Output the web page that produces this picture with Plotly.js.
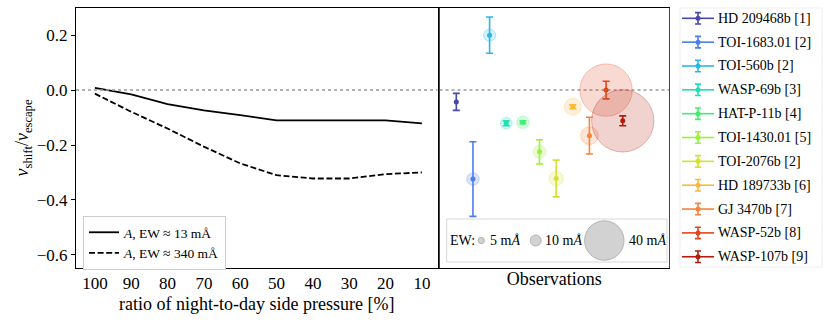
<!DOCTYPE html>
<html>
<head>
<meta charset="utf-8">
<script src="https://cdn.plot.ly/plotly-3.0.1.min.js"></script>
<style>html,body{margin:0;padding:0;background:#fff;}#chart{width:830px;height:324px;}</style>
</head>
<body>
<div id="chart"></div>
<script>
// ---- Left panel: simulated shift vs night-to-day pressure ratio ----
const pressure = [100, 90, 80, 70, 60, 50, 40, 30, 20, 10];
const shiftLowEW = [0.008, -0.016, -0.051, -0.074, -0.091, -0.110, -0.110, -0.110, -0.110, -0.121];
const shiftHighEW = [-0.013, -0.079, -0.140, -0.206, -0.267, -0.310, -0.322, -0.322, -0.306, -0.300];
const modelNames = ['<i>A</i>, EW ≈ 13 mÅ', '<i>A</i>, EW ≈ 340 mÅ'];

// ---- Right panel: observations ----
const planetNames = ['HD 209468b [1]', 'TOI-1683.01 [2]', 'TOI-560b [2]', 'WASP-69b [3]', 'HAT-P-11b [4]',
  'TOI-1430.01 [5]', 'TOI-2076b [2]', 'HD 189733b [6]', 'GJ 3470b [7]', 'WASP-52b [8]', 'WASP-107b [9]'];
const obsIndex = [1, 2, 3, 4, 5, 6, 7, 8, 9, 10, 11];
const vShift = [-0.043, -0.324, 0.200, -0.121, -0.117, -0.225, -0.322, -0.061, -0.166, 0.000, -0.112];
const vShiftErr = [0.031, 0.136, 0.066, 0.009, 0.005, 0.044, 0.067, 0.007, 0.067, 0.032, 0.018];
const ewObs = [2.5, 11.4, 11.1, 10.7, 11.4, 11.8, 13.5, 16, 17, 53.5, 64];
const planetColors = ['#4548ad', '#4a7ef0', '#29b8e6', '#1fdfb4', '#3ef06f', '#99f233', '#d6df33',
  '#fdb73c', '#f8823a', '#e0461b', '#b31c0c'];

// ---- EW size legend ----
const ewLegendValues = [5, 10, 40];
const ewLegendLabels = ['5 m<i>Å</i>', '10 m<i>Å</i>', '40 m<i>Å</i>'];

// ---- tick labels ----
const yTicks = [-0.6, -0.4, -0.2, 0.0, 0.2];
const xTicks = [100, 90, 80, 70, 60, 50, 40, 30, 20, 10];

const W = 830, H = 324;
const px = x => x / W;
const py = y => 1 - y / H;
const serif = 'Liberation Serif, Times New Roman, serif';
const ewToDiameter = ew => 0.95 * ew + 1.5;
function rgba(hex, a) {
  const n = parseInt(hex.slice(1), 16);
  return `rgba(${(n >> 16) & 255},${(n >> 8) & 255},${n & 255},${a})`;
}

const yRange = [-0.648, 0.299];
const traces = [];

// left panel model lines
traces.push({x: pressure, y: shiftLowEW, type: 'scatter', mode: 'lines', name: modelNames[0],
  line: {color: '#000', width: 1.8}, xaxis: 'x', yaxis: 'y', hoverinfo: 'skip'});
traces.push({x: pressure, y: shiftHighEW, type: 'scatter', mode: 'lines', name: modelNames[1],
  line: {color: '#000', width: 1.8, dash: '6px,2.6px'}, xaxis: 'x', yaxis: 'y', hoverinfo: 'skip'});

// bubbles (EW)
traces.push({x: obsIndex, y: vShift, type: 'scatter', mode: 'markers', showlegend: false,
  xaxis: 'x2', yaxis: 'y2', hoverinfo: 'skip',
  marker: {size: ewObs.map(ewToDiameter), color: planetColors.map(c => rgba(c, 0.28)),
    line: {color: planetColors.map(c => rgba(c, 0.45)), width: 1}}});

// error bars per planet
for (let i = 0; i < planetNames.length; i++) {
  traces.push({x: [obsIndex[i]], y: [vShift[i]], type: 'scatter', mode: 'markers', showlegend: false,
    xaxis: 'x2', yaxis: 'y2', name: planetNames[i],
    marker: {size: 5, color: planetColors[i]},
    error_y: {type: 'data', array: [vShiftErr[i]], visible: true, color: planetColors[i], thickness: 1.6, width: 3.5}});
}

// custom legend for the observations (errorbar handles)
const annotations = [];
for (let i = 0; i < planetNames.length; i++) {
  traces.push({x: [2, 34], y: [i, i], type: 'scatter', mode: 'lines', showlegend: false,
    xaxis: 'x4', yaxis: 'y4', hoverinfo: 'skip', line: {color: planetColors[i], width: 1.6}});
  traces.push({x: [18], y: [i], type: 'scatter', mode: 'markers', showlegend: false,
    xaxis: 'x4', yaxis: 'y4', hoverinfo: 'skip', marker: {size: 5, color: planetColors[i]},
    error_y: {type: 'data', array: [0.24], visible: true, color: planetColors[i], thickness: 1.6, width: 3}});
  annotations.push({xref: 'x4', yref: 'y4', x: 36, y: i, text: planetNames[i], showarrow: false,
    xanchor: 'left', yanchor: 'middle', font: {family: serif, size: 14, color: '#000'}});
}

// EW legend circles
const ewLegendX = [34.6, 89, 157.6];
const ewLabelX = [41.5, 96.5, 180];
traces.push({x: ewLegendX, y: ewLegendValues.map(() => 21.5), type: 'scatter', mode: 'markers',
  showlegend: false, xaxis: 'x3', yaxis: 'y3', hoverinfo: 'skip',
  marker: {size: ewLegendValues.map(ewToDiameter), color: 'rgba(175,175,175,0.8)',
    line: {color: 'rgba(120,120,120,0.7)', width: 1}}});
annotations.push({xref: 'x3', yref: 'y3', x: 1.5, y: 21.5, text: 'EW:', showarrow: false,
  xanchor: 'left', yanchor: 'middle', font: {family: serif, size: 14, color: '#000'}});
for (let k = 0; k < ewLegendValues.length; k++) {
  annotations.push({xref: 'x3', yref: 'y3', x: ewLabelX[k], y: 21.5, text: ewLegendLabels[k], showarrow: false,
    xanchor: 'left', yanchor: 'middle', font: {family: serif, size: 14, color: '#000'}});
}

const shapes = [
  {type: 'line', xref: 'x domain', yref: 'y', x0: 0, x1: 1, y0: 0, y1: 0,
    line: {color: '#999', width: 1.5, dash: 'dot'}},
  {type: 'line', xref: 'x2 domain', yref: 'y2', x0: 0, x1: 1, y0: 0, y1: 0,
    line: {color: '#999', width: 1.5, dash: 'dot'}, layer: 'below'},
  {type: 'rect', xref: 'paper', yref: 'paper', x0: px(446.7), x1: px(667), y0: py(262), y1: py(219),
    line: {color: '#d8d8d8', width: 1}, fillcolor: '#fff', layer: 'below'},
  {type: 'rect', xref: 'paper', yref: 'paper', x0: px(680), x1: px(822), y0: py(267), y1: py(8),
    line: {color: '#eeeeee', width: 1}, fillcolor: '#fff', layer: 'below'}
];

const axisCommon = {showgrid: false, zeroline: false, showline: true, linecolor: '#000', linewidth: 1};

const layout = {
  width: W, height: H,
  margin: {l: 0, r: 0, t: 0, b: 0},
  paper_bgcolor: '#fff', plot_bgcolor: 'rgba(0,0,0,0)',
  font: {family: serif, color: '#000'},
  showlegend: true,
  legend: {x: px(83), y: py(216), xanchor: 'left', yanchor: 'top', bgcolor: '#fff',
    bordercolor: '#cccccc', borderwidth: 1, font: {family: serif, size: 13.5}, itemwidth: 30,
    tracegroupgap: 0},
  xaxis: Object.assign({}, axisCommon, {domain: [px(76), px(437.5)], range: [105.2, 5.7], anchor: 'y',
    mirror: true, ticks: '', tickvals: xTicks, ticktext: xTicks.map(String),
    tickfont: {family: serif, size: 17},
    title: {text: 'ratio of night-to-day side pressure [%]', font: {family: serif, size: 18}, standoff: 4}}),
  yaxis: Object.assign({}, axisCommon, {domain: [py(268), py(8)], range: yRange, anchor: 'x',
    mirror: true, ticks: 'outside', ticklen: 4, tickcolor: '#000', tickvals: yTicks,
    ticktext: yTicks.map(v => (v < 0 ? '−' : '') + Math.abs(v).toFixed(1)),
    tickfont: {family: serif, size: 17},
    title: {text: '<i>v</i><sub>shift</sub>/<i>v</i><sub>escape</sub>', font: {family: serif, size: 18}}}),
  yaxis5: {overlaying: 'y', side: 'right', anchor: 'x', range: yRange, ticks: 'inside', ticklen: 4,
    tickcolor: '#000', tickvals: yTicks, showticklabels: false, showgrid: false, zeroline: false, showline: false},
  xaxis2: Object.assign({}, axisCommon, {domain: [px(439.5), px(669)], range: [-0.01, 13.78], anchor: 'y2',
    mirror: true, ticks: '', showticklabels: false,
    title: {text: 'Observations', font: {family: serif, size: 18}, standoff: 4}}),
  yaxis2: Object.assign({}, axisCommon, {domain: [py(268), py(8)], range: yRange, anchor: 'x2',
    mirror: true, ticks: '', showticklabels: false, linecolor: '#444'}),
  xaxis3: {domain: [px(446.7), px(667)], range: [0, 220.3], anchor: 'y3', visible: false, fixedrange: true},
  yaxis3: {domain: [py(262), py(219)], range: [43, 0], anchor: 'x3', visible: false, fixedrange: true},
  xaxis4: {domain: [px(680), px(822)], range: [0, 142], anchor: 'y4', visible: false, fixedrange: true},
  yaxis4: {domain: [py(267), py(8)], range: [10.43, -0.432], anchor: 'x4', visible: false, fixedrange: true},
  shapes: shapes,
  annotations: annotations
};

Plotly.newPlot('chart', traces, layout, {displayModeBar: false, staticPlot: true});
</script>
</body>
</html>
